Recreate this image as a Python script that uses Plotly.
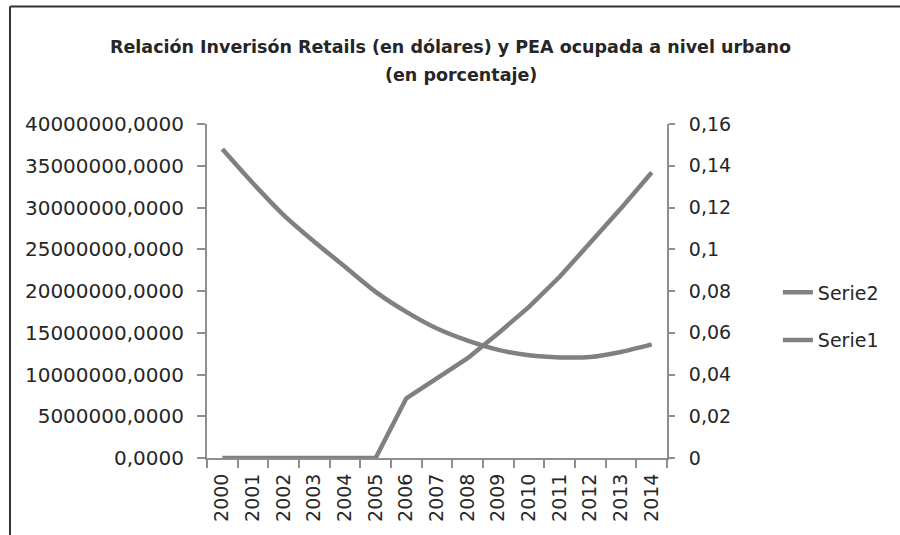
import plotly.graph_objects as go

# data
years = [str(y) for y in range(2000, 2015)]
inversion_retails = [0, 0, 0, 0, 0, 0, 7150000, 9550000, 11950000, 14950000,
                     18100000, 21700000, 25700000, 29900000, 34200000]
pea_ocupada = [0.148, 0.1316, 0.1164, 0.1036, 0.0916, 0.0796, 0.070, 0.062,
               0.0562, 0.0518, 0.0492, 0.0482, 0.0484, 0.0508, 0.0544]

left_ticks = [i * 5000000 for i in range(9)]
left_labels = [f"{v},0000" for v in left_ticks]
right_ticks = [i * 0.02 for i in range(9)]
right_labels = ["0", "0,02", "0,04", "0,06", "0,08", "0,1", "0,12", "0,14", "0,16"]

line_col = '#808083'
axis_col = '#8e8e90'
txt_col = '#262626'
fnt = 'DejaVu Sans'

fig = go.Figure()
fig.add_trace(go.Scatter(x=years, y=inversion_retails, mode='lines', name='Serie2',
                         line=dict(color=line_col, width=4.5), legendgroup='a'))
fig.add_trace(go.Scatter(x=years, y=pea_ocupada, mode='lines', name='Serie1', yaxis='y2',
                         line=dict(color=line_col, width=4.5, shape='spline', smoothing=0.8),
                         legendgroup='b'))

fig.update_layout(
    width=900, height=535, autosize=False,
    margin=dict(l=207, r=233, t=124, b=77),
    paper_bgcolor='white', plot_bgcolor='white',
    font=dict(family=fnt, size=19, color=txt_col),
    showlegend=True,
    legend=dict(x=1.241, xanchor='left', y=0.4237, yanchor='middle', traceorder='grouped',
                tracegroupgap=20, font=dict(size=19, color=txt_col), bgcolor='rgba(0,0,0,0)'),
    xaxis=dict(type='category', tickangle=-90, showgrid=False, showline=True,
               linecolor=axis_col, linewidth=2, ticks='outside', tickson='boundaries',
               ticklen=8, tickwidth=1.5, tickcolor=axis_col, range=[-0.5, 14.5],
               ticklabelstandoff=6, tickfont=dict(size=19, color=txt_col)),
    yaxis=dict(range=[0, 40000000], tickvals=left_ticks, ticktext=left_labels,
               showgrid=False, zeroline=False, showline=True, linecolor=axis_col, linewidth=2,
               ticks='outside', ticklen=8, tickwidth=1.5, tickcolor=axis_col,
               ticklabelstandoff=9, tickfont=dict(size=20, color=txt_col)),
    yaxis2=dict(range=[0, 0.16], tickvals=right_ticks, ticktext=right_labels, overlaying='y',
                side='right', showgrid=False, zeroline=False, showline=True, linecolor=axis_col,
                linewidth=2, ticks='outside', ticklen=6, tickwidth=1.5, tickcolor=axis_col,
                ticklabelstandoff=10, tickfont=dict(size=19, color=txt_col)),
)

# two-line title
fig.add_annotation(text='<b>Relación Inverisón Retails (en dólares) y PEA ocupada a nivel urbano</b>',
                   xref='paper', yref='paper', x=0.529, y=1.2305, showarrow=False,
                   xanchor='center', yanchor='middle', font=dict(size=17.5, color=txt_col))
fig.add_annotation(text='<b>(en porcentaje)</b>', xref='paper', yref='paper', x=0.553, y=1.1467,
                   showarrow=False, xanchor='center', yanchor='middle',
                   font=dict(size=17.5, color=txt_col))

# frame lines on left and top of the picture
fig.add_shape(type='line', xref='paper', yref='paper', x0=-0.4283, x1=-0.4283, y0=1.3518, y1=-0.24,
              line=dict(color='#333333', width=2))
fig.add_shape(type='line', xref='paper', yref='paper', x0=-0.4283, x1=1.51, y0=1.3518, y1=1.3518,
              line=dict(color='#333333', width=2))

fig.write_html("out.html", config={'displayModeBar': False},
               post_script="document.body.style.margin='0px';")
